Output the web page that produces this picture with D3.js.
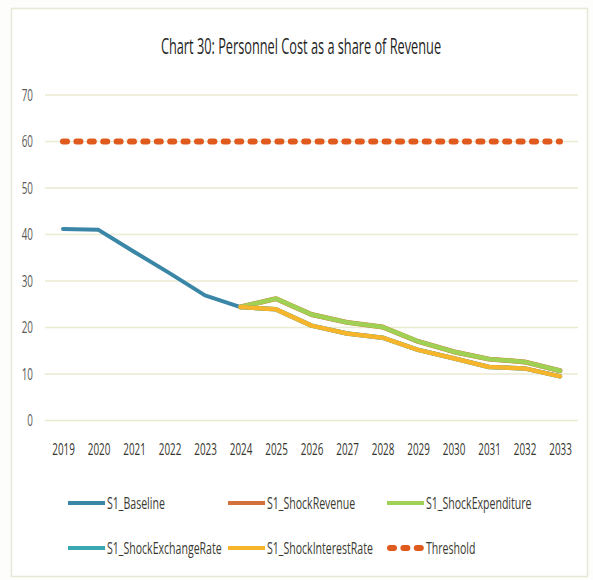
<!DOCTYPE html>
<html>
<head>
<meta charset="utf-8">
<script src="https://cdn.jsdelivr.net/npm/d3@7"></script>
<style>
  html, body { margin: 0; padding: 0; background: #fdfdfb; }
  svg { display: block; }
  text { font-family: "Open Sans", "Noto Sans", sans-serif; }
</style>
</head>
<body>
<svg id="chart" width="593" height="580"></svg>
<script>
// Year categories along the x axis
const years = ["2019","2020","2021","2022","2023","2024","2025","2026","2027","2028","2029","2030","2031","2032","2033"];

// Personnel cost as % of revenue, by scenario (null = not projected)
const baseline        = [41.2, 41.0, 36.3, 31.7, 26.9, 24.4, 23.9, 20.4, 18.7, 17.8, 15.2, 13.4, 11.5, 11.2, 9.5];
const shockRevenue    = [null, null, null, null, null, 24.4, 26.2, 22.8, 21.1, 20.1, 17.0, 14.8, 13.2, 12.6, 10.7];
const shockExpenditure= [null, null, null, null, null, 24.4, 26.2, 22.8, 21.1, 20.1, 17.0, 14.8, 13.2, 12.6, 10.7];
const shockExchange   = [null, null, null, null, null, 24.4, 23.9, 20.4, 18.7, 17.8, 15.2, 13.4, 11.5, 11.2, 9.5];
const shockInterest   = [null, null, null, null, null, 24.4, 23.9, 20.4, 18.7, 17.8, 15.2, 13.4, 11.5, 11.2, 9.5];
const threshold       = [60, 60, 60, 60, 60, 60, 60, 60, 60, 60, 60, 60, 60, 60, 60];

// Y axis ticks
const yTicks = [0, 10, 20, 30, 40, 50, 60, 70];

const seriesNames = ["S1_Baseline", "S1_ShockRevenue", "S1_ShockExpenditure",
                     "S1_ShockExchangeRate", "S1_ShockInterestRate", "Threshold"];

const series = [
  { name: seriesNames[0], values: baseline,         color: "#3a86a6", width: 4 },
  { name: seriesNames[1], values: shockRevenue,     color: "#d4703a", width: 5 },
  { name: seriesNames[2], values: shockExpenditure, color: "#9fd155", width: 4.5 },
  { name: seriesNames[3], values: shockExchange,    color: "#3aa8b0", width: 4.5 },
  { name: seriesNames[4], values: shockInterest,    color: "#f7b52c", width: 4.5 },
  { name: seriesNames[5], values: threshold,        color: "#e05a1e", width: 6, dash: "4,9.4" }
];

// Narrow typeface look: text is squeezed horizontally
const narrow = 0.58;
const narrowLegend = 0.64;

const svg = d3.select("#chart");

// Outer frame
svg.append("rect")
  .attr("x", 11.5).attr("y", 8.5)
  .attr("width", 576).attr("height", 568)
  .attr("fill", "#ffffff")
  .attr("stroke", "#e8e8d6").attr("stroke-width", 1.5);

// Title
svg.append("g")
  .attr("transform", "translate(301,54)")
  .append("text")
  .attr("text-anchor", "middle")
  .attr("font-size", 22)
  .attr("fill", "#1f1f1f")
  .attr("transform", `scale(${narrow},1)`)
  .text("Chart 30: Personnel Cost as a share of Revenue");

const x = d3.scalePoint().domain(years).range([63, 560]);
const y = d3.scaleLinear().domain([0, 70]).range([420.5, 95]);

// Horizontal gridlines
svg.append("g")
  .selectAll("line")
  .data(yTicks)
  .join("line")
  .attr("x1", 45).attr("x2", 578)
  .attr("y1", d => y(d)).attr("y2", d => y(d))
  .attr("stroke", "#ebead2").attr("stroke-width", 1.5);

// Y axis labels
const yAxis = svg.append("g")
  .attr("transform", "translate(33,0)")
  .call(d3.axisLeft(y).tickValues(yTicks).tickSize(0).tickPadding(0));
yAxis.select(".domain").remove();
yAxis.selectAll("text")
  .attr("font-size", 17).attr("fill", "#5a5a55")
  .attr("transform", `scale(${narrow},1)`)
  .style("font-family", null);

// X axis labels
const xAxis = svg.append("g")
  .attr("transform", "translate(0,443)")
  .call(d3.axisBottom(x).tickSize(0).tickPadding(0));
xAxis.select(".domain").remove();
xAxis.selectAll("text")
  .attr("font-size", 17).attr("fill", "#35352e")
  .attr("transform", `scale(${narrow},1)`)
  .style("font-family", null);

// Series lines
const line = d3.line()
  .defined(d => d.v !== null)
  .x(d => x(d.year))
  .y(d => y(d.v));

svg.append("g")
  .selectAll("path")
  .data(series)
  .join("path")
  .attr("d", s => line(years.map((yr, i) => ({ year: yr, v: s.values[i] }))))
  .attr("fill", "none")
  .attr("stroke", s => s.color)
  .attr("stroke-width", s => s.width)
  .attr("stroke-linejoin", "round")
  .attr("stroke-linecap", "round")
  .attr("stroke-dasharray", s => s.dash || null);

// Legend (3 columns x 2 rows)
const legendCols = [68, 228, 387];
const legendRows = [503, 548];
const legend = svg.append("g")
  .selectAll("g")
  .data(series)
  .join("g")
  .attr("transform", (s, i) => `translate(${legendCols[i % 3]},${legendRows[Math.floor(i / 3)]})`);

legend.append("line")
  .attr("x1", d => d.dash ? 3 : 0)
  .attr("x2", d => d.dash ? 36 : 37)
  .attr("y1", 0).attr("y2", 0)
  .attr("stroke", d => d.color)
  .attr("stroke-width", d => d.dash ? 6 : 4)
  .attr("stroke-linecap", d => d.dash ? "round" : "butt")
  .attr("stroke-dasharray", d => d.dash ? "4,9.4" : null);

legend.append("g")
  .attr("transform", "translate(39,0)")
  .append("text")
  .attr("dy", "0.35em")
  .attr("font-size", 16.5)
  .attr("fill", "#3a3a32")
  .attr("transform", `scale(${narrowLegend},1)`)
  .text(d => d.name);
</script>
</body>
</html>
